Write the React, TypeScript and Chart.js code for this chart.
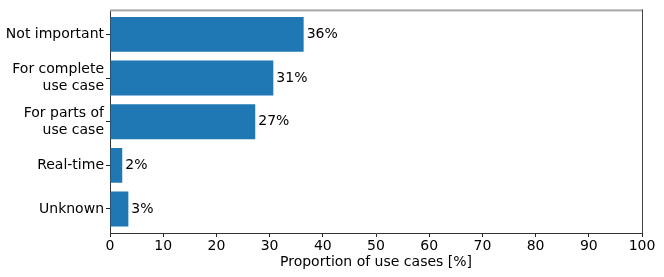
import React, { useEffect, useRef } from "react";
import { Chart, registerables } from "chart.js";

Chart.register(...registerables);

const categories: string[][] = [
  ["Not important"],
  ["For complete", "use case"],
  ["For parts of", "use case"],
  ["Real-time"],
  ["Unknown"],
];
const values: number[] = [36.4, 30.7, 27.3, 2.3, 3.45];
const xTickValues: number[] = [0, 10, 20, 30, 40, 50, 60, 70, 80, 90, 100];
const xTitle = "Proportion of use cases [%]";

const FONT = "DejaVu Sans";
const BAR_COLOR = "#1f77b4";

const valueLabels = {
  id: "valueLabels",
  afterDatasetsDraw(chart: any) {
    const ctx = chart.ctx;
    const meta = chart.getDatasetMeta(0);
    ctx.save();
    ctx.font = `14px "${FONT}"`;
    ctx.fillStyle = "#000";
    ctx.textAlign = "left";
    ctx.textBaseline = "middle";
    meta.data.forEach((bar: any, i: number) => {
      ctx.fillText(`${Math.round(values[i])}%`, bar.x + 3, bar.y);
    });
    ctx.restore();
  },
};

const frame = {
  id: "frame",
  afterDraw(chart: any) {
    const { ctx, chartArea } = chart;
    const { left, right, top, bottom } = chartArea;
    ctx.save();
    ctx.fillStyle = "#a6a6a6";
    ctx.fillRect(left, top - 1, right - left + 1, 2);
    ctx.fillStyle = "#444";
    ctx.fillRect(right, top - 1, 1, bottom - top + 1);
    ctx.restore();
  },
};

export default function App() {
  const ref = useRef<HTMLCanvasElement | null>(null);

  useEffect(() => {
    if (!ref.current) return;
    const chart = new Chart(ref.current, {
      type: "bar",
      data: {
        datasets: [
          {
            data: values.map((v, i) => ({ x: v, y: i })),
            backgroundColor: BAR_COLOR,
            borderWidth: 0,
            categoryPercentage: 1,
            barPercentage: 0.8,
          },
        ],
      },
      options: {
        indexAxis: "y",
        animation: false,
        responsive: false,
        devicePixelRatio: 1,
        layout: { padding: { left: 0, right: 22, top: 10, bottom: 0 } },
        plugins: {
          legend: { display: false },
          tooltip: { enabled: false },
        },
        scales: {
          x: {
            type: "linear",
            min: 0,
            max: 100,
            afterFit: (s: any) => {
              s.height = 44;
            },
            afterBuildTicks: (s: any) => {
              s.ticks = xTickValues.map((v) => ({ value: v }));
            },
            ticks: {
              color: "#000",
              font: { family: FONT, size: 14 },
              padding: 1,
              maxRotation: 0,
              autoSkip: false,
            },
            grid: {
              display: true,
              offset: false,
              drawOnChartArea: false,
              drawTicks: true,
              tickLength: 4,
              color: "#222",
            },
            border: { display: true, color: "#333", width: 1 },
            title: {
              display: true,
              text: xTitle,
              color: "#000",
              font: { family: FONT, size: 14 },
              padding: { top: 0, bottom: 6 },
            },
          },
          y: {
            type: "linear",
            reverse: true,
            min: -0.55,
            max: 4.55,
            offset: false,
            afterFit: (s: any) => {
              s.width = 110;
            },
            afterBuildTicks: (s: any) => {
              s.ticks = categories.map((_, i) => ({ value: i }));
            },
            ticks: {
              color: "#000",
              font: { family: FONT, size: 14 },
              padding: 2,
              autoSkip: false,
              callback: (v: any) => categories[Math.round(Number(v))],
            },
            grid: {
              display: true,
              offset: false,
              drawOnChartArea: false,
              drawTicks: true,
              tickLength: 4,
              color: "#222",
            },
            border: { display: true, color: "#333", width: 1 },
          },
        },
      },
      plugins: [valueLabels, frame],
    });
    return () => chart.destroy();
  }, []);

  return (
    <div style={{ position: "absolute", left: 0, top: 0, width: 664, height: 277, background: "#fff" }}>
      <canvas ref={ref} width={664} height={277} style={{ display: "block" }} />
    </div>
  );
}
